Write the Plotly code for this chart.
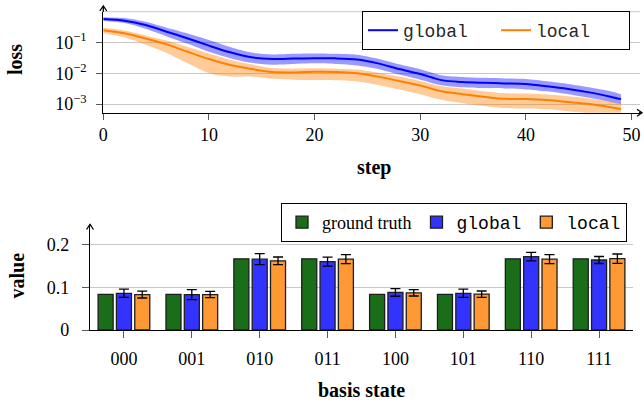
import plotly.graph_objects as go

W, H = 644, 407

# ---------------- data: loss curves ----------------
steps = [0, 2, 4, 6, 8, 10, 12, 14, 16, 18, 20, 22, 24, 26, 28, 30, 32, 34, 36, 38, 40, 42, 44, 46, 48, 49]
global_loss = [0.575, 0.51, 0.37, 0.224, 0.135, 0.079, 0.048, 0.033, 0.029, 0.030, 0.0310, 0.0305, 0.028,
               0.021, 0.0138, 0.0095, 0.0060, 0.0052, 0.0049, 0.0047, 0.0045, 0.0038, 0.0031, 0.0024, 0.00174, 0.00145]
global_upper = [0.66, 0.62, 0.47, 0.30, 0.195, 0.12, 0.071, 0.047, 0.041, 0.043, 0.044, 0.043, 0.040,
                0.0295, 0.0195, 0.0135, 0.0087, 0.0076, 0.0071, 0.0068, 0.0065, 0.0055, 0.0045, 0.0035, 0.0026, 0.0021]
global_lower = [0.50, 0.43, 0.28, 0.158, 0.091, 0.050, 0.031, 0.022, 0.019, 0.020, 0.021, 0.020, 0.018,
                0.0138, 0.0091, 0.0062, 0.0041, 0.0035, 0.0033, 0.0032, 0.0030, 0.0026, 0.0021, 0.0016, 0.00117, 0.00098]
local_loss = [0.25, 0.20, 0.135, 0.087, 0.050, 0.029, 0.0186, 0.0138, 0.011, 0.0107, 0.0112, 0.011, 0.010,
              0.0078, 0.0056, 0.0040, 0.0026, 0.0021, 0.00174, 0.00148, 0.00145, 0.00135, 0.00117, 0.0010, 0.00079, 0.00069]
local_upper = [0.30, 0.245, 0.17, 0.115, 0.071, 0.044, 0.0275, 0.0195, 0.0148, 0.0141, 0.0145, 0.0141, 0.0132,
               0.0105, 0.0078, 0.0056, 0.0038, 0.0032, 0.0026, 0.00224, 0.0022, 0.00204, 0.00178, 0.00151, 0.0012, 0.00105]
local_lower = [0.20, 0.148, 0.085, 0.046, 0.021, 0.010, 0.0078, 0.0078, 0.0066, 0.0062, 0.0060, 0.0059, 0.0054,
               0.0042, 0.0030, 0.0021, 0.00138, 0.00107, 0.00087, 0.00074, 0.00072, 0.00068, 0.00059, 0.0005, 0.0004, 0.00035]

# ---------------- data: basis state distribution ----------------
states = ["000", "001", "010", "011", "100", "101", "110", "111"]
ground_truth = [0.0833, 0.0833, 0.1667, 0.1667, 0.0833, 0.0833, 0.1667, 0.1667]
global_vals = [0.086, 0.083, 0.166, 0.160, 0.088, 0.086, 0.172, 0.164]
global_err = [0.0097, 0.0117, 0.013, 0.0105, 0.009, 0.0097, 0.010, 0.0082]
local_vals = [0.083, 0.083, 0.162, 0.166, 0.087, 0.084, 0.166, 0.167]
local_err = [0.008, 0.0074, 0.009, 0.0105, 0.0074, 0.0074, 0.0105, 0.011]

BLUE = "rgb(0,0,255)"
ORANGE = "rgb(255,128,0)"
SERIF = "Liberation Serif"
MONO = "Liberation Mono"

def px_x(p):
    return p / W

def px_y(p):
    return 1 - p / H

fig = go.Figure()

# bands
for up, lo, col in [(global_upper, global_lower, "rgba(0,0,255,0.4)"),
                    (local_upper, local_lower, "rgba(255,128,0,0.4)")]:
    fig.add_trace(go.Scatter(x=steps, y=up, mode="lines", line=dict(width=0, shape="spline", smoothing=0.8),
                             showlegend=False, hoverinfo="skip", xaxis="x", yaxis="y"))
    fig.add_trace(go.Scatter(x=steps, y=lo, mode="lines", line=dict(width=0, shape="spline", smoothing=0.8),
                             fill="tonexty", fillcolor=col, showlegend=False, hoverinfo="skip",
                             xaxis="x", yaxis="y"))

fig.add_trace(go.Scatter(x=steps, y=global_loss, mode="lines", name="global",
                         line=dict(color=BLUE, width=2, shape="spline", smoothing=0.8),
                         xaxis="x", yaxis="y", legend="legend"))
fig.add_trace(go.Scatter(x=steps, y=local_loss, mode="lines", name="local",
                         line=dict(color=ORANGE, width=2, shape="spline", smoothing=0.8),
                         xaxis="x", yaxis="y", legend="legend"))

# bars
bar_line = dict(color="rgb(30,30,30)", width=1.3)
err_style = dict(color="black", thickness=1.3, width=5)
fig.add_trace(go.Bar(x=states, y=ground_truth, name="ground truth",
                     marker=dict(color="rgb(26,110,26)", line=bar_line),
                     xaxis="x2", yaxis="y2", legend="legend2"))
fig.add_trace(go.Bar(x=states, y=global_vals, name=f'<span style="font-family:{MONO}">global</span>',
                     marker=dict(color="rgb(51,51,255)", line=bar_line),
                     error_y=dict(type="data", array=global_err, **err_style),
                     xaxis="x2", yaxis="y2", legend="legend2"))
fig.add_trace(go.Bar(x=states, y=local_vals, name=f'<span style="font-family:{MONO}">local</span>',
                     marker=dict(color="rgb(255,153,51)", line=bar_line),
                     error_y=dict(type="data", array=local_err, **err_style),
                     xaxis="x2", yaxis="y2", legend="legend2"))

tickfont = dict(family=SERIF, size=18, color="black")
grid = "rgb(200,200,200)"

fig.update_layout(
    width=W, height=H,
    margin=dict(l=0, r=0, t=0, b=0),
    paper_bgcolor="white", plot_bgcolor="white",
    barmode="group", bargap=0.19, bargroupgap=0.18,
    xaxis=dict(domain=[px_x(103.3), px_x(640)], range=[0, 50.8], tickvals=[0, 10, 20, 30, 40, 50],
               showgrid=False, zeroline=False, showline=True, linecolor="black", linewidth=1.3,
               ticks="outside", ticklen=6, tickcolor="rgb(90,90,90)", tickfont=tickfont,
               anchor="y", automargin=False),
    yaxis=dict(domain=[px_y(112.7), px_y(11.7)], type="log", range=[-3.28, 0],
               tickvals=[0.001, 0.01, 0.1],
               ticktext=["10<sup>−3</sup>", "10<sup>−2</sup>", "10<sup>−1</sup>"],
               showgrid=True, gridcolor=grid, gridwidth=1, zeroline=False,
               showline=True, linecolor="black", linewidth=1.3,
               ticks="outside", ticklen=6, tickcolor="rgb(90,90,90)", tickfont=tickfont,
               ticklabelstandoff=6, anchor="x", automargin=False),
    xaxis2=dict(domain=[px_x(90), px_x(633)], range=[-0.5, 7.5], type="category",
                showgrid=False, zeroline=False, showline=True, linecolor="black", linewidth=1.3,
                ticks="outside", ticklen=7, tickcolor="rgb(90,90,90)", tickfont=tickfont,
                ticklabelstandoff=5, anchor="y2", automargin=False),
    yaxis2=dict(domain=[px_y(330), px_y(225.4)], range=[0, 0.245], tickvals=[0, 0.1, 0.2],
                ticktext=["0", "0.1", "0.2"],
                showgrid=True, gridcolor=grid, gridwidth=1, zeroline=False,
                showline=True, linecolor="black", linewidth=1.3,
                ticks="outside", ticklen=7, tickcolor="rgb(90,90,90)", tickfont=tickfont,
                ticklabelstandoff=9, anchor="x2", automargin=False),
    legend=dict(orientation="h", x=px_x(630), xanchor="right", y=px_y(11), yanchor="top",
                traceorder="normal", bgcolor="white", bordercolor="black", borderwidth=1,
                entrywidth=88, font=dict(family=MONO, size=18, color="rgb(40,40,40)")),
    legend2=dict(orientation="h", x=px_x(627), xanchor="right", y=px_y(203), yanchor="top",
                 traceorder="normal", bgcolor="white", bordercolor="black", borderwidth=1,
                 font=dict(family=SERIF, size=18, color="black")),
    showlegend=True,
)

ann = []
title_font = dict(family=SERIF, size=20, color="black")
for txt, x, y, ang in [("<b>loss</b>", 15, 60, -90), ("<b>step</b>", 374, 167, 0),
                       ("<b>value</b>", 16.5, 276, -90), ("<b>basis state</b>", 361.5, 390, 0)]:
    ann.append(dict(text=txt, x=px_x(x), y=px_y(y), xref="paper", yref="paper",
                    xanchor="center", yanchor="middle", textangle=ang, showarrow=False, font=title_font))
fig.update_layout(annotations=ann)

shapes = []
# top gridline at 10^0 (upper edge of the log axis)
shapes.append(dict(type="line", xref="x domain", yref="y domain", x0=0, x1=1, y0=1, y1=1,
                   line=dict(color=grid, width=1), layer="below"))

def arrow_up(x, y_tip, y_from):
    return [
        dict(type="line", xref="paper", yref="paper", x0=px_x(x), x1=px_x(x), y0=px_y(y_from), y1=px_y(y_tip),
             line=dict(color="black", width=1.3)),
        dict(type="path", xref="paper", yref="paper",
             path=f"M {px_x(x-3.5)},{px_y(y_tip+5)} L {px_x(x)},{px_y(y_tip)} L {px_x(x+3.5)},{px_y(y_tip+5)}",
             line=dict(color="black", width=1.3)),
    ]

def arrow_right(x_tip, y, x_from):
    return [
        dict(type="line", xref="paper", yref="paper", x0=px_x(x_from), x1=px_x(x_tip), y0=px_y(y), y1=px_y(y),
             line=dict(color="black", width=1.3)),
        dict(type="path", xref="paper", yref="paper",
             path=f"M {px_x(x_tip-5)},{px_y(y-3.5)} L {px_x(x_tip)},{px_y(y)} L {px_x(x_tip-5)},{px_y(y+3.5)}",
             line=dict(color="black", width=1.3)),
    ]

shapes += arrow_up(103.3, 6, 12)
shapes += arrow_right(642, 112.7, 639)
shapes += arrow_up(90, 224.5, 226)
fig.update_layout(shapes=shapes)

fig.write_html("out.html", config={"displayModeBar": False},
               post_script="document.body.style.margin='0px';document.body.style.overflow='hidden';")
